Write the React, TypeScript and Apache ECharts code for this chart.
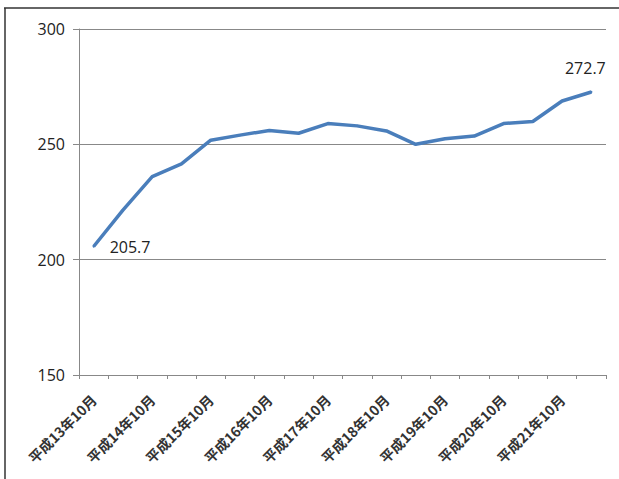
import React, { useEffect, useRef } from "react";
import * as echarts from "echarts";

const categories = [
  "平成13年10月", "平成14年4月", "平成14年10月", "平成15年4月", "平成15年10月",
  "平成16年4月", "平成16年10月", "平成17年4月", "平成17年10月", "平成18年4月",
  "平成18年10月", "平成19年4月", "平成19年10月", "平成20年4月", "平成20年10月",
  "平成21年4月", "平成21年10月", "平成22年4月",
];
const values = [
  205.7, 221.5, 236.0, 241.5, 251.8, 254.0, 256.0, 254.8, 259.0, 258.0,
  255.8, 250.0, 252.4, 253.6, 259.0, 259.9, 268.8, 272.7,
];
const yTicks = { min: 150, max: 300, interval: 50 };

export default function App() {
  const ref = useRef<HTMLDivElement>(null);
  useEffect(() => {
    if (!ref.current) return;
    const chart = echarts.init(ref.current, null, { renderer: "svg" });
    const last = values.length - 1;
    chart.setOption({
      animation: false,
      backgroundColor: "#ffffff",
      graphic: [
        { type: "line", shape: { x1: 4, y1: 8, x2: 619, y2: 8 }, style: { stroke: "#333", lineWidth: 1.5 } },
        { type: "line", shape: { x1: 5, y1: 8, x2: 5, y2: 479 }, style: { stroke: "#333", lineWidth: 1.5 } },
      ],
      grid: { left: 79, right: 13, top: 29, bottom: 104 },
      xAxis: {
        type: "category",
        data: categories,
        boundaryGap: true,
        axisLine: { lineStyle: { color: "#888", width: 1 } },
        axisTick: { show: true, length: 4, lineStyle: { color: "#888" }, interval: 0 },
        axisLabel: {
          interval: 1,
          rotate: 45,
          margin: 22,
          fontSize: 14,
          fontWeight: "bold",
          color: "#333",
          fontFamily: "Noto Sans CJK JP",
        },
      },
      yAxis: {
        type: "value",
        min: yTicks.min,
        max: yTicks.max,
        interval: yTicks.interval,
        axisLine: { show: true, lineStyle: { color: "#888", width: 1 } },
        axisTick: { show: true, length: 6, lineStyle: { color: "#888" } },
        splitLine: { lineStyle: { color: "#888", width: 1 } },
        axisLabel: {
          fontSize: 16,
          color: "#222",
          margin: 14,
          fontFamily: "Open Sans",
        },
      },
      series: [
        {
          type: "line",
          data: values.map((v, i) => {
            if (i === 0) {
              return {
                value: v,
                label: { show: true, position: "right", offset: [10, 0], formatter: "{c}" },
              };
            }
            if (i === last) {
              return {
                value: v,
                label: { show: true, position: "top", offset: [-6, -10], formatter: "{c}" },
              };
            }
            return v;
          }),
          showSymbol: true,
          symbol: "circle",
          symbolSize: 2,
          lineStyle: { color: "#4a7ebb", width: 3.5 },
          itemStyle: { color: "#4a7ebb" },
          label: { fontSize: 16, color: "#222", fontFamily: "Open Sans" },
        },
      ],
    });
    return () => chart.dispose();
  }, []);
  return <div ref={ref} style={{ width: 619, height: 479, position: "absolute", left: 0, top: 0 }} />;
}
